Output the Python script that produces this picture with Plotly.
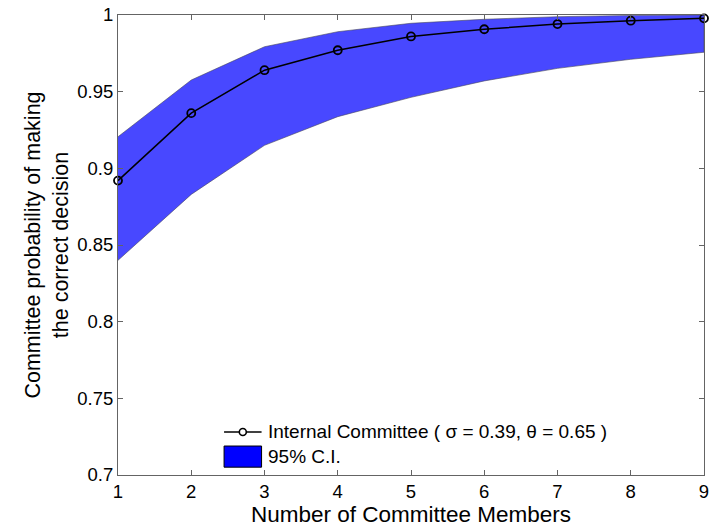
import plotly.graph_objects as go

# Committee size and estimated probability of a correct decision
members = [1, 2, 3, 4, 5, 6, 7, 8, 9]
p_correct = [0.892, 0.936, 0.964, 0.977, 0.986, 0.9907, 0.9941, 0.9963, 0.9978]
ci_upper = [0.9206, 0.9576, 0.9793, 0.9891, 0.9946, 0.9972, 0.9989, 0.9997, 1.0]
ci_lower = [0.840, 0.883, 0.915, 0.9337, 0.9463, 0.957, 0.9652, 0.9711, 0.9757]

y_ticks = [0.7, 0.75, 0.8, 0.85, 0.9, 0.95, 1.0]
y_tick_text = ["0.7", "0.75", "0.8", "0.85", "0.9", "0.95", "1"]

line_label = "Internal Committee ( \u03c3 = 0.39, \u03b8 = 0.65 )"
band_label = "95% C.I."

font_family = "Liberation Sans, Arial, sans-serif"

fig = go.Figure()

# 95% confidence band as a closed polygon
fig.add_trace(go.Scatter(
    x=members + members[::-1],
    y=ci_upper + ci_lower[::-1],
    fill="toself",
    fillcolor="rgb(72,72,255)",
    line=dict(color="rgb(70,70,90)", width=0.6),
    mode="lines",
    showlegend=False,
    hoverinfo="skip",
))

# Mean curve
fig.add_trace(go.Scatter(
    x=members,
    y=p_correct,
    mode="lines+markers",
    line=dict(color="black", width=1.5),
    marker=dict(symbol="circle-open", size=8, color="black", line=dict(width=1.8)),
    name=line_label,
    showlegend=False,
    cliponaxis=False,
))

axis_common = dict(
    showline=True,
    linecolor="rgb(100,100,100)",
    linewidth=1,
    mirror="ticks",
    ticks="inside",
    ticklen=5,
    tickcolor="rgb(100,100,100)",
    showgrid=False,
    zeroline=False,
    automargin=False,
    tickfont=dict(family=font_family, size=18.5, color="black"),
)

# Hand-placed legend in paper coordinates (lower-left of the axes)
leg_x0, leg_x1 = 0.181, 0.245
leg_xm = (leg_x0 + leg_x1) / 2
row1_y, row2_y = 0.0935, 0.040
text_x = 0.252

shapes = [
    dict(type="line", xref="paper", yref="paper",
         x0=leg_x0, x1=leg_x1, y0=row1_y, y1=row1_y,
         line=dict(color="black", width=1.5)),
    dict(type="circle", xref="paper", yref="paper",
         xsizemode="pixel", ysizemode="pixel",
         xanchor=leg_xm, yanchor=row1_y,
         x0=-3.5, x1=3.5, y0=-3.5, y1=3.5,
         line=dict(color="black", width=1.6), fillcolor="white"),
    dict(type="rect", xref="paper", yref="paper",
         x0=leg_x0, x1=leg_x1, y0=row2_y - 0.023, y1=row2_y + 0.023,
         line=dict(color="black", width=1), fillcolor="rgb(0,0,255)"),
]

annotations = [
    dict(text=line_label, xref="paper", yref="paper", x=text_x, y=row1_y,
         xanchor="left", yanchor="middle", showarrow=False,
         font=dict(family=font_family, size=19, color="black")),
    dict(text=band_label, xref="paper", yref="paper", x=text_x, y=row2_y,
         xanchor="left", yanchor="middle", showarrow=False,
         font=dict(family=font_family, size=19, color="black")),
]

fig.update_layout(
    width=713,
    height=531,
    margin=dict(l=118, r=9, t=15, b=56),
    paper_bgcolor="white",
    plot_bgcolor="white",
    font=dict(family=font_family, color="black"),
    xaxis=dict(
        range=[1, 9],
        tickvals=members,
        title=dict(text="Number of Committee Members",
                   font=dict(family=font_family, size=22.5), standoff=3),
        **axis_common,
    ),
    yaxis=dict(
        range=[0.7, 1.0],
        tickvals=y_ticks,
        ticktext=y_tick_text,
        title=dict(text="Committee probability of making<br>the correct decision",
                   font=dict(family=font_family, size=21.5), standoff=2),
        **axis_common,
    ),
    shapes=shapes,
    annotations=annotations,
    showlegend=False,
)

fig.write_html("out.html")
